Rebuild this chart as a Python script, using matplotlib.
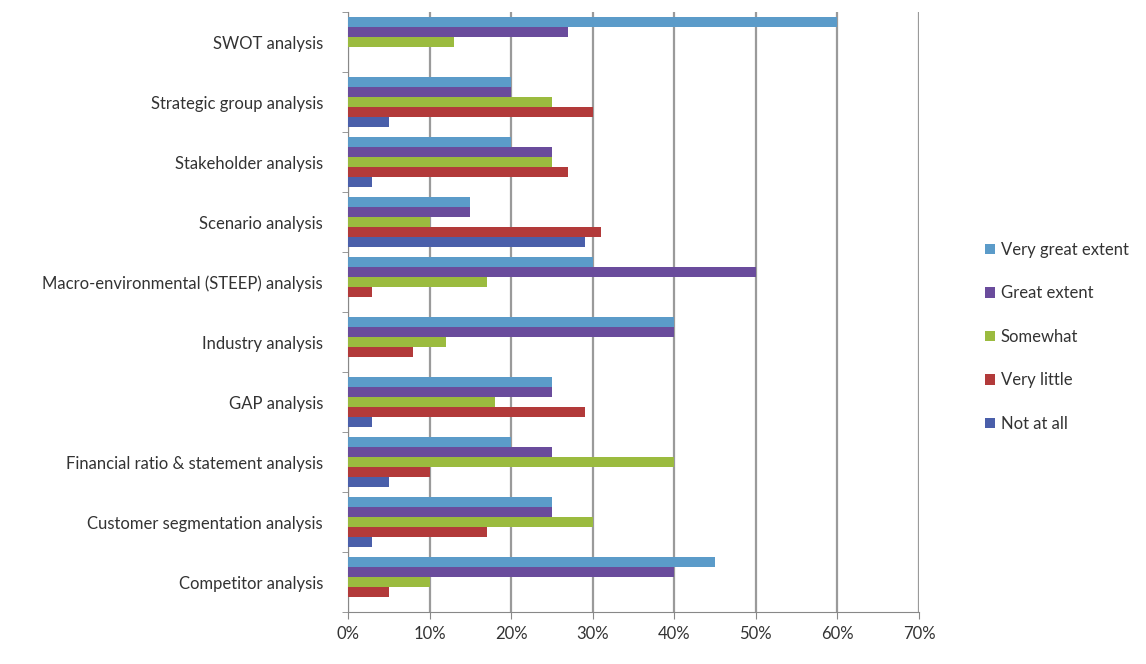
import matplotlib.pyplot as plt
import numpy as np
from matplotlib.ticker import PercentFormatter

categories = ["SWOT analysis", "Strategic group analysis", "Stakeholder analysis",
              "Scenario analysis", "Macro-environmental (STEEP) analysis",
              "Industry analysis", "GAP analysis",
              "Financial ratio & statement analysis",
              "Customer segmentation analysis", "Competitor analysis"]

series = ["Very great extent", "Great extent", "Somewhat", "Very little", "Not at all"]

very_great = [60, 20, 20, 15, 30, 40, 25, 20, 25, 45]
great      = [27, 20, 25, 15, 50, 40, 25, 25, 25, 40]
somewhat   = [13, 25, 25, 10, 17, 12, 18, 40, 30, 10]
very_little = [0, 30, 27, 31, 3, 8, 29, 10, 17, 5]
not_at_all = [0, 5, 3, 29, 0, 0, 3, 5, 3, 0]

colors = ["#5b9bc9", "#6a4c9c", "#9bbb3f", "#b23a3a", "#4a5faa"]

plt.rcParams['font.family'] = ['Lato', 'DejaVu Sans']

fig = plt.figure(figsize=(11.46, 6.64), dpi=100)
ax = fig.add_axes([348/1146, 1 - 612/664, (919 - 348)/1146, 600/664])

n = len(categories)
pos = np.arange(n)[::-1]  # first category at top
h = 0.165
values = [very_great, great, somewhat, very_little, not_at_all]
for i, (name, vals, c) in enumerate(zip(series, values, colors)):
    ax.barh(pos + (2 - i) * h, vals, height=h, color=c, label=name, zorder=3)

ax.set_xlim(0, 70)
ax.set_ylim(-0.5, n - 0.5)
ax.set_xticks(np.arange(0, 71, 10))
ax.xaxis.set_major_formatter(PercentFormatter(decimals=0))
ax.set_yticks(pos)
ax.set_yticklabels(categories)
ax.set_yticks(np.arange(-0.5, n, 1), minor=True)
ax.tick_params(axis='y', which='major', length=0, pad=18, labelsize=12, labelcolor="#333333")
ax.tick_params(axis='y', which='minor', length=4, color="#888888")
ax.tick_params(axis='x', length=5, color="#888888", pad=5, labelsize=12, labelcolor="#333333")

ax.grid(axis='x', color="#9a9a9a", linewidth=1.6, zorder=0)
for s in ['top', 'right']:
    ax.spines[s].set_visible(False)
ax.spines['left'].set_color("#888888")
ax.spines['bottom'].set_color("#888888")

ax.legend(loc='center left', bbox_to_anchor=(970/1146, 1 - 337/664), bbox_transform=fig.transFigure,
          frameon=False, fontsize=12, labelspacing=1.65, handlelength=0.6, handleheight=0.6,
          handletextpad=0.35, labelcolor="#333333")

fig.savefig("out.png", dpi=100)
